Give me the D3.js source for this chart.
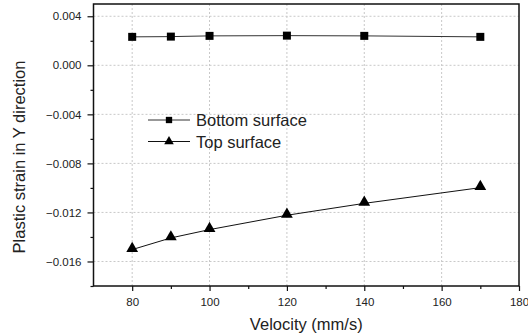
<!DOCTYPE html>
<meta charset="utf-8">
<style>
body { margin: 0; background: #fff; }
text { font-family: "Liberation Sans", Arial, sans-serif; fill: #222; }
.grid line { stroke: #c8c8c8; stroke-dasharray: 2,2; }
</style>
<svg width="528" height="335"></svg>
<script src="https://cdn.jsdelivr.net/npm/d3@7"></script>
<script>

var velocity = [80, 90, 100, 120, 140, 170];
var bottomSurface = [0.00232, 0.00234, 0.0024, 0.00242, 0.0024, 0.00232];
var topSurface = [-0.01503, -0.01408, -0.0134, -0.01223, -0.01126, -0.00998];
var xTicks = [80, 100, 120, 140, 160, 180];
var yTicks = [0.004, 0.000, -0.004, -0.008, -0.012, -0.016];

var svg = d3.select("svg");
var pLeft = 93.5, pRight = 519, pTop = 4, pBottom = 286;

var x = d3.scaleLinear().domain([70, 180]).range([pLeft, pRight]);
var y = d3.scaleLinear().domain([-0.018, 0.005]).range([pBottom, pTop]);

// grid
var grid = svg.append("g").attr("class", "grid");
grid.selectAll(".gx")
    .data(xTicks.filter(function(d) { return d < 180; }))
  .enter().append("line")
    .attr("x1", x).attr("x2", x)
    .attr("y1", pTop).attr("y2", pBottom);
grid.selectAll(".gy")
    .data(yTicks)
  .enter().append("line")
    .attr("y1", y).attr("y2", y)
    .attr("x1", pLeft).attr("x2", pRight);

// frame
svg.append("rect")
    .attr("x", pLeft).attr("y", pTop)
    .attr("width", pRight - pLeft).attr("height", pBottom - pTop)
    .attr("fill", "none").attr("stroke", "#111").attr("stroke-width", 1.5);

// axes
var xAxis = d3.axisBottom(x).tickValues(xTicks).tickFormat(d3.format("d")).tickSize(5).tickPadding(7);
var xMinor = d3.axisBottom(x).tickValues(d3.range(90, 180, 20)).tickFormat("").tickSize(3);
var yAxis = d3.axisLeft(y).tickValues(yTicks).tickFormat(d3.format(".3f")).tickSize(6).tickPadding(6);
var yMinor = d3.axisLeft(y).tickValues([0.002, -0.002, -0.006, -0.010, -0.014, -0.018]).tickFormat("").tickSize(3);

[[xAxis, "translate(0," + pBottom + ")"], [xMinor, "translate(0," + pBottom + ")"],
 [yAxis, "translate(" + pLeft + ",0)"], [yMinor, "translate(" + pLeft + ",0)"]].forEach(function(a) {
  var g = svg.append("g").attr("transform", a[1]).call(a[0]);
  g.select(".domain").remove();
  g.selectAll("line").attr("stroke", "#111").attr("stroke-width", 1.2);
  g.selectAll("text").style("font-size", "11.5px").attr("fill", "#222");
});

// axis titles
svg.append("text")
    .attr("x", (pLeft + pRight) / 2).attr("y", 329.5)
    .attr("text-anchor", "middle")
    .style("font-size", "16.5px")
    .text("Velocity (mm/s)");

svg.append("text")
    .attr("transform", "translate(25,157) rotate(-90)")
    .attr("text-anchor", "middle")
    .style("font-size", "16.5px")
    .text("Plastic strain in Y direction");

// series
var line = d3.line()
    .x(function(d, i) { return x(velocity[i]); })
    .y(function(d) { return y(d); });

var sq = d3.symbol().type(d3.symbolSquare).size(64);
var tri = d3.symbol().type(d3.symbolTriangle).size(60);

svg.append("path").datum(bottomSurface)
    .attr("d", line).attr("fill", "none").attr("stroke", "#333").attr("stroke-width", 1);
svg.selectAll(".sq").data(bottomSurface).enter().append("path")
    .attr("d", sq)
    .attr("transform", function(d, i) { return "translate(" + x(velocity[i]) + "," + y(d) + ")"; })
    .attr("fill", "#000");

svg.append("path").datum(topSurface)
    .attr("d", line).attr("fill", "none").attr("stroke", "#111").attr("stroke-width", 1);
svg.selectAll(".tri").data(topSurface).enter().append("path")
    .attr("d", tri)
    .attr("transform", function(d, i) { return "translate(" + x(velocity[i]) + "," + (y(d) - 1) + ")"; })
    .attr("fill", "#000");

// legend
var legend = [["Bottom surface", sq, 120, "#333"], ["Top surface", tri, 141.5, "#111"]];
legend.forEach(function(l) {
  svg.append("line").attr("x1", 148).attr("x2", 190).attr("y1", l[2]).attr("y2", l[2])
      .attr("stroke", l[3]).attr("stroke-width", 1);
  svg.append("path").attr("d", l[1].size(40))
      .attr("transform", "translate(169," + l[2] + ")").attr("fill", "#000");
  svg.append("text").attr("x", 196).attr("y", l[2] + 6)
      .style("font-size", "16.5px").text(l[0]);
});

</script>
